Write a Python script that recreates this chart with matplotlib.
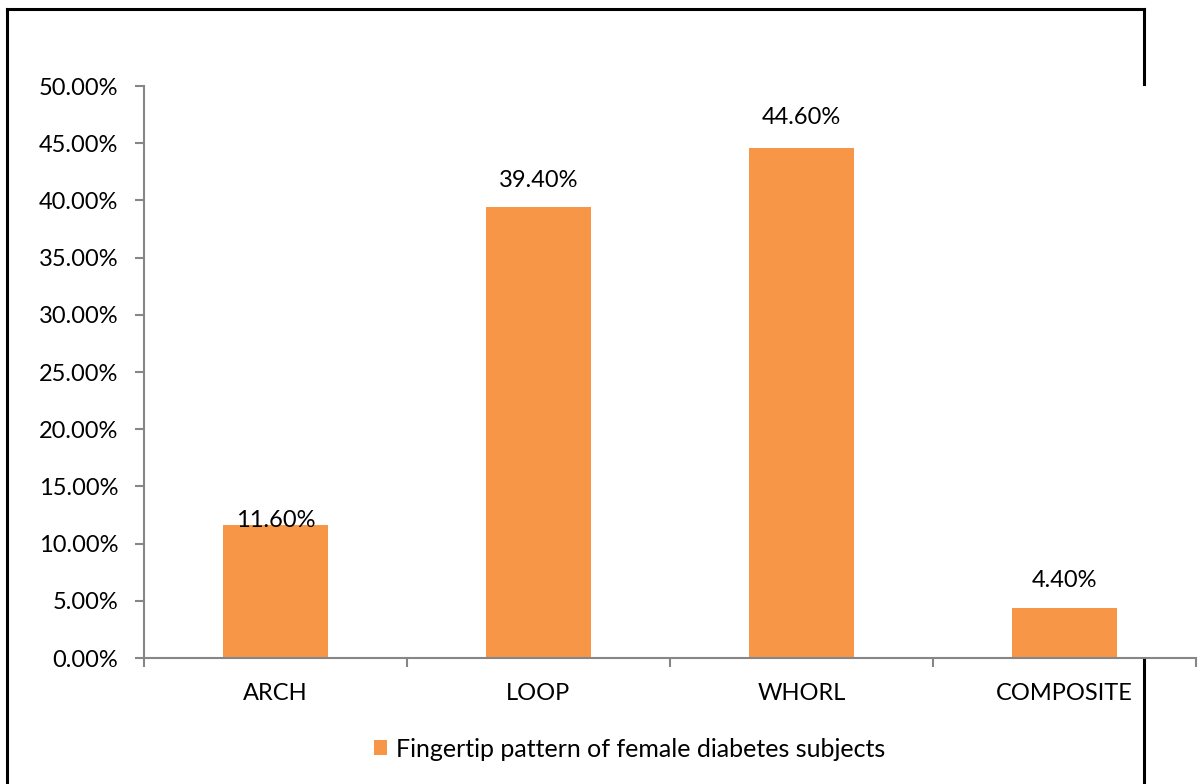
import matplotlib.pyplot as plt
from matplotlib.lines import Line2D
from matplotlib.ticker import FuncFormatter, FixedLocator
import numpy as np

plt.rcParams['font.family'] = ['Lato', 'DejaVu Sans']

kategorie = ['ARCH', 'LOOP', 'WHORL', 'COMPOSITE']
wartosci = [11.60, 39.40, 44.60, 4.40]
etykieta_serii = 'Fingertip pattern of female diabetes subjects'
# odstep napisu nad slupkiem (w punktach)
odstepy = [-4, 12, 14, 12]

kolor = '#F79646'
szary = '#868686'
rozmiar = 17

fig = plt.figure(figsize=(12.02, 7.84), dpi=100)
ax = fig.add_axes([0.1198, 0.1607, 0.8752, 0.7296])

x = np.arange(len(kategorie))
slupki = ax.bar(x, wartosci, width=0.4, color=kolor, label=etykieta_serii)

for xi, w, dy in zip(x, wartosci, odstepy):
    ax.annotate(f'{w:.2f}%', (xi, w), xytext=(0, dy), textcoords='offset points',
                ha='center', va='bottom', fontsize=rozmiar, color='black')

ax.set_xlim(-0.5, len(kategorie) - 0.5)
ax.set_ylim(0, 50)
ax.set_yticks(np.arange(0, 50.1, 5))
ax.yaxis.set_major_formatter(FuncFormatter(lambda v, p: f'{v:.2f}%'))
ax.set_xticks(x)
ax.set_xticklabels(kategorie)
ax.xaxis.set_minor_locator(FixedLocator(np.arange(-0.5, len(kategorie), 1.0)))

for s in ['top', 'right']:
    ax.spines[s].set_visible(False)
for s in ['left', 'bottom']:
    ax.spines[s].set_color(szary)
    ax.spines[s].set_linewidth(1.5)

ax.tick_params(axis='y', length=6.5, width=1.5, color=szary, labelsize=rozmiar, pad=12)
ax.tick_params(axis='x', which='major', length=0, labelsize=rozmiar, pad=18)
ax.tick_params(axis='x', which='minor', length=6.5, width=1.5, color=szary)

ax.legend(loc='upper center', bbox_to_anchor=(0.4615, -0.1), frameon=False,
          fontsize=18, handlelength=0.55, handleheight=0.55, handletextpad=0.35)

# czarna ramka wokol wykresu (przerwana przez obszar osi po prawej)
lw = 2.2
fig.add_artist(Line2D([0.0058, 0.0058], [0, 0.9885], color='black', lw=lw))
fig.add_artist(Line2D([0.0058, 0.9517], [0.9885, 0.9885], color='black', lw=lw))
fig.add_artist(Line2D([0.9517, 0.9517], [0.893, 0.9885], color='black', lw=lw))
fig.add_artist(Line2D([0.9517, 0.9517], [0, 0.158], color='black', lw=lw))

fig.savefig('out.png', dpi=100)
